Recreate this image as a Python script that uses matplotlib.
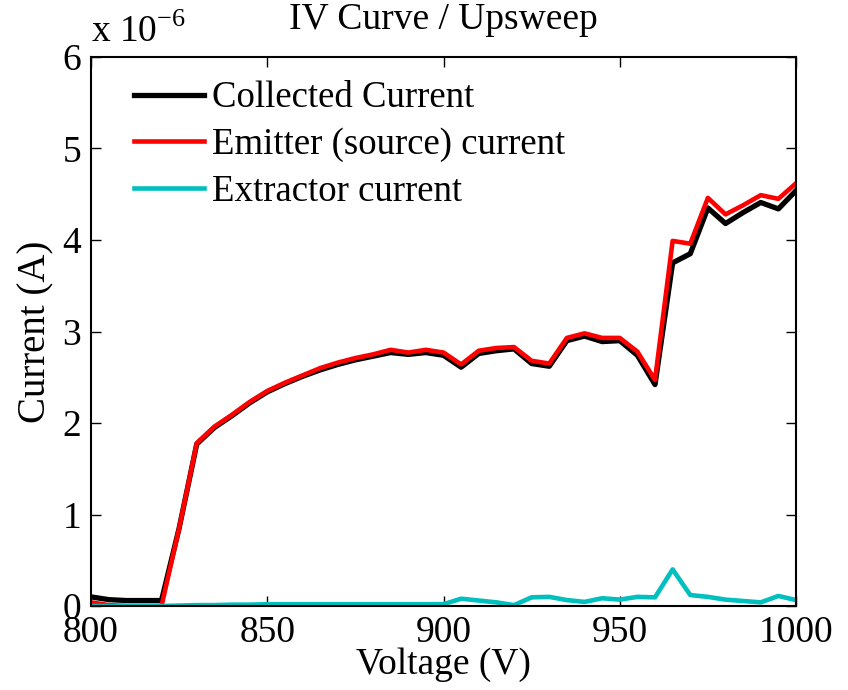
import matplotlib
matplotlib.use('Agg')
import matplotlib.pyplot as plt

plt.rcParams['font.family'] = ['Liberation Serif', 'DejaVu Serif']
plt.rcParams['mathtext.fontset'] = 'custom'
plt.rcParams['mathtext.rm'] = 'Liberation Serif'

voltage = list(range(800, 1001, 5))

# currents in units of 1e-6 A
collected = [0.10, 0.07, 0.06, 0.06, 0.06, 0.85, 1.77, 1.95, 2.08, 2.22, 2.34,
             2.43, 2.51, 2.58, 2.64, 2.69, 2.73, 2.77, 2.75, 2.77, 2.74, 2.61,
             2.76, 2.79, 2.81, 2.65, 2.62, 2.90, 2.95, 2.89, 2.90, 2.74, 2.42,
             3.75, 3.85, 4.35, 4.18, 4.30, 4.41, 4.34, 4.54]
emitter = [0.04, 0.01, 0.00, 0.00, 0.00, 0.85, 1.78, 1.96, 2.09, 2.23, 2.35,
           2.44, 2.52, 2.60, 2.66, 2.71, 2.75, 2.80, 2.77, 2.80, 2.77, 2.64,
           2.79, 2.82, 2.83, 2.68, 2.65, 2.93, 2.98, 2.93, 2.93, 2.78, 2.47,
           3.99, 3.96, 4.46, 4.28, 4.38, 4.49, 4.45, 4.62]
extractor = [0.00, 0.00, 0.00, 0.00, 0.00, 0.005, 0.01, 0.01, 0.015, 0.015, 0.02,
             0.02, 0.02, 0.02, 0.02, 0.02, 0.02, 0.02, 0.02, 0.02, 0.02, 0.08,
             0.06, 0.04, 0.01, 0.095, 0.10, 0.065, 0.045, 0.085, 0.07, 0.10, 0.095,
             0.40, 0.12, 0.10, 0.07, 0.055, 0.04, 0.11, 0.065]

fig = plt.figure(figsize=(8.48, 6.9), dpi=100)
ax = fig.add_axes([0.1073, 0.1217, 0.8314, 0.7957])

ax.plot(voltage, collected, color='black', lw=3.8, label='Collected Current')
ax.plot(voltage, emitter, color='red', lw=3.3, label='Emitter (source) current')
ax.plot(voltage, extractor, color='#00bfbf', lw=3.3, label='Extractor current')

ax.set_xlim(800, 1000)
ax.set_ylim(0, 6)
ax.set_xticks([800, 850, 900, 950, 1000])
ax.set_yticks([0, 1, 2, 3, 4, 5, 6])
ax.tick_params(direction='in', length=7, width=1, labelsize=27, top=True, right=True)
ax.tick_params(axis='x', pad=7)
ax.tick_params(axis='y', pad=7)
for s in ax.spines.values():
    s.set_linewidth(1.5)

ax.set_xlabel('Voltage (V)', fontsize=27, labelpad=-2)
ax.set_ylabel('Current (A)', fontsize=28, labelpad=6)
ax.set_title('IV Curve / Upsweep', fontsize=27, pad=20)
ax.text(0.0, 1.012, r'x 10$^{-6}$', transform=ax.transAxes, fontsize=27, ha='left', va='bottom')

leg = ax.legend(loc='upper left', frameon=False, fontsize=26.5, handlelength=1.9,
                handletextpad=0.22, labelspacing=0.33, borderaxespad=0.25,
                bbox_to_anchor=(0.027, 1.0))

fig.savefig('out.png', dpi=100)
